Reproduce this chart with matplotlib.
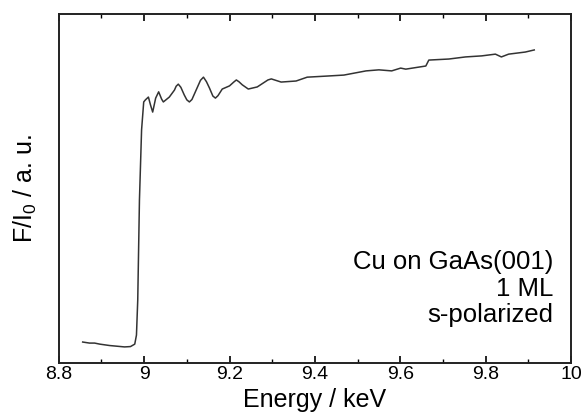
import numpy as np
import matplotlib.pyplot as plt
from matplotlib.ticker import MultipleLocator

plt.rcParams['font.family'] = ['Liberation Sans', 'DejaVu Sans']

# Cu K-edge fluorescence yield (arbitrary units)
energy = [8.856, 8.872, 8.884, 8.896, 8.919, 8.954, 8.968, 8.978, 8.982, 8.985,
          8.989, 8.994, 8.999, 9.003, 9.010, 9.015, 9.020, 9.027, 9.034, 9.041,
          9.045, 9.059, 9.071, 9.075, 9.080, 9.086, 9.094, 9.100, 9.106, 9.112,
          9.120, 9.132, 9.139, 9.146, 9.153, 9.161, 9.167, 9.173, 9.183, 9.200,
          9.210, 9.216, 9.222, 9.230, 9.244, 9.265, 9.290, 9.298, 9.321, 9.356,
          9.382, 9.426, 9.468, 9.520, 9.550, 9.580, 9.601, 9.613, 9.660, 9.667,
          9.714, 9.753, 9.791, 9.823, 9.837, 9.854, 9.893, 9.914]
signal = [0.060, 0.057, 0.057, 0.054, 0.050, 0.046, 0.047, 0.054, 0.080, 0.180,
          0.467, 0.668, 0.748, 0.754, 0.762, 0.739, 0.719, 0.759, 0.777, 0.756,
          0.748, 0.762, 0.782, 0.793, 0.799, 0.790, 0.768, 0.754, 0.748, 0.755,
          0.777, 0.810, 0.819, 0.806, 0.788, 0.765, 0.759, 0.766, 0.785, 0.794,
          0.805, 0.811, 0.806, 0.797, 0.785, 0.791, 0.811, 0.814, 0.805, 0.808,
          0.819, 0.822, 0.825, 0.837, 0.840, 0.837, 0.845, 0.842, 0.851, 0.868,
          0.871, 0.877, 0.880, 0.885, 0.877, 0.885, 0.891, 0.897]

sample_text = ['Cu on GaAs(001)', '1 ML', 's-polarized']

fig = plt.figure(figsize=(5.82, 4.12), dpi=100)
ax = fig.add_axes([0.101, 0.119, 0.880, 0.847])

ax.plot(energy, signal, color='#333333', lw=1.1)

ax.set_xlim(8.8, 10.0)
ax.set_ylim(0, 1)
ax.set_yticks([])
ax.xaxis.set_minor_locator(MultipleLocator(0.1))
ax.set_xticks([8.8, 9.0, 9.2, 9.4, 9.6, 9.8, 10.0])
ax.set_xticklabels(['8.8', '9', '9.2', '9.4', '9.6', '9.8', '10'])
ax.tick_params(axis='x', which='both', direction='in', top=True, labelsize=14, pad=2)
ax.tick_params(axis='x', which='major', length=5, width=1.2)
ax.tick_params(axis='x', which='minor', length=3, width=1.0)
for s in ax.spines.values():
    s.set_linewidth(1.4)
    s.set_color('#222222')

ax.set_xlabel('Energy / keV', fontsize=18, labelpad=4)
ax.set_ylabel(r'F/I$_\mathregular{0}$ / a. u.', fontsize=18, labelpad=14)

for i, t in enumerate(sample_text):
    ax.text(0.965, 0.269 - i * 0.076, t, transform=ax.transAxes,
            ha='right', va='baseline', fontsize=18.5)

fig.savefig('out.png', dpi=100)
